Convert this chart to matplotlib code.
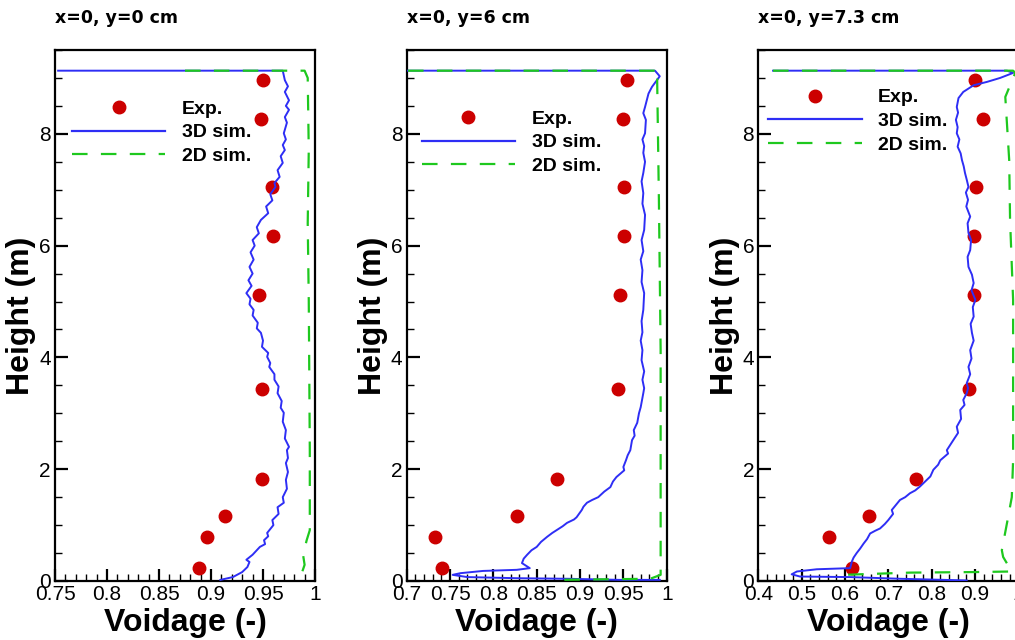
# -*- coding: utf-8 -*-
"""
Axial voidage profiles at three radial positions: experiment vs 3D / 2D simulation.
"""

import matplotlib

matplotlib.use("Agg")
import matplotlib.pyplot as plt  # noqa: E402
from matplotlib.lines import Line2D  # noqa: E402
from matplotlib.ticker import FuncFormatter, MultipleLocator  # noqa: E402

# ---------------------------------------------------------------- data
TITLES = ["x=0, y=0 cm", "x=0, y=6 cm", "x=0, y=7.3 cm"]

EXP_HEIGHT = [0.24, 0.78, 1.16, 1.82, 3.43, 5.11, 6.18, 7.05, 8.27, 8.97]
EXP_VOID_Y0 = [0.888, 0.896, 0.913, 0.949, 0.949, 0.946, 0.960, 0.959, 0.948, 0.950]
EXP_VOID_Y6 = [0.741, 0.733, 0.827, 0.873, 0.944, 0.946, 0.951, 0.951, 0.950, 0.954]
EXP_VOID_Y73 = [0.616, 0.562, 0.656, 0.764, 0.887, 0.898, 0.898, 0.902, 0.919, 0.900]

SIM3D_Y0_VOID = [0.753, 0.969, 0.971, 0.974, 0.971, 0.975, 0.972, 0.975, 0.971, 0.973,
                 0.970, 0.972, 0.969, 0.971, 0.967, 0.969, 0.964, 0.966, 0.961, 0.962,
                 0.957, 0.959, 0.953, 0.955, 0.948, 0.944, 0.946, 0.940, 0.942, 0.938,
                 0.941, 0.937, 0.940, 0.936, 0.939, 0.934, 0.938, 0.937, 0.941, 0.940,
                 0.945, 0.944, 0.948, 0.950, 0.949, 0.955, 0.954, 0.957, 0.956, 0.961,
                 0.961, 0.965, 0.964, 0.968, 0.967, 0.970, 0.969, 0.972, 0.971, 0.975,
                 0.973, 0.974, 0.972, 0.974, 0.972, 0.973, 0.969, 0.970, 0.964, 0.965,
                 0.959, 0.960, 0.954, 0.955, 0.951, 0.952, 0.947, 0.940, 0.934, 0.937,
                 0.935, 0.930, 0.921, 0.909]
SIM3D_Y0_HEIGHT = [9.13, 9.13, 8.96, 8.85, 8.75, 8.60, 8.50, 8.43, 8.30, 8.20,
                   8.01, 7.90, 7.80, 7.71, 7.60, 7.48, 7.35, 7.23, 7.12, 7.05,
                   6.92, 6.81, 6.70, 6.58, 6.46, 6.33, 6.22, 6.10, 6.00, 5.88,
                   5.75, 5.62, 5.50, 5.38, 5.28, 5.15, 5.05, 4.95, 4.85, 4.75,
                   4.62, 4.52, 4.44, 4.30, 4.19, 4.08, 4.01, 3.90, 3.83, 3.70,
                   3.60, 3.48, 3.36, 3.22, 3.10, 3.01, 2.85, 2.70, 2.55, 2.40,
                   2.34, 2.20, 2.11, 1.95, 1.81, 1.65, 1.50, 1.40, 1.32, 1.20,
                   1.09, 1.00, 0.86, 0.80, 0.73, 0.66, 0.61, 0.47, 0.38, 0.34,
                   0.25, 0.16, 0.07, 0.02]

SIM2D_Y0_VOID = [0.875, 0.990, 0.993, 0.994, 0.993, 0.994, 0.995, 0.995, 0.992, 0.9885,
                 0.990, 0.986, 0.984]
SIM2D_Y0_HEIGHT = [9.13, 9.13, 9.00, 7.71, 6.40, 5.03, 2.34, 0.91, 0.73, 0.47,
                   0.29, 0.07, 0.0]

SIM3D_Y6_VOID = [0.7015, 0.9865, 0.992, 0.983, 0.979, 0.977, 0.975, 0.973, 0.976, 0.975,
                 0.972, 0.974, 0.973, 0.975, 0.973, 0.971, 0.973, 0.972, 0.975, 0.974,
                 0.971, 0.973, 0.970, 0.972, 0.971, 0.974, 0.973, 0.971, 0.972, 0.970,
                 0.972, 0.971, 0.974, 0.972, 0.974, 0.973, 0.970, 0.968, 0.966, 0.962,
                 0.963, 0.960, 0.958, 0.955, 0.953, 0.950, 0.951, 0.942, 0.938, 0.935,
                 0.928, 0.921, 0.914, 0.908, 0.904, 0.902, 0.896, 0.893, 0.885, 0.880,
                 0.873, 0.868, 0.862, 0.855, 0.850, 0.844, 0.839, 0.835, 0.833, 0.842,
                 0.827, 0.788, 0.762, 0.753, 0.770, 0.827, 0.885, 0.946, 0.992]
SIM3D_Y6_HEIGHT = [9.13, 9.13, 9.03, 8.84, 8.72, 8.60, 8.48, 8.37, 8.25, 8.01,
                   7.90, 7.78, 7.66, 7.50, 7.30, 7.15, 6.94, 6.75, 6.55, 6.28,
                   6.10, 5.90, 5.75, 5.56, 5.35, 5.15, 4.85, 4.65, 4.45, 4.30,
                   4.13, 3.95, 3.75, 3.60, 3.45, 3.36, 3.11, 3.00, 2.83, 2.70,
                   2.60, 2.52, 2.34, 2.25, 2.16, 2.04, 1.98, 1.86, 1.78, 1.68,
                   1.60, 1.50, 1.45, 1.40, 1.33, 1.27, 1.14, 1.10, 1.04, 0.98,
                   0.91, 0.86, 0.79, 0.70, 0.61, 0.55, 0.47, 0.40, 0.32, 0.23,
                   0.20, 0.18, 0.14, 0.11, 0.07, 0.05, 0.04, 0.02, 0.02]

SIM2D_Y6_VOID = [0.7015, 0.992, 0.989, 0.991, 0.993, 0.993, 0.993, 0.981, 0.873]
SIM2D_Y6_HEIGHT = [9.13, 9.13, 8.96, 6.82, 4.13, 1.45, 0.11, 0.04, 0.02]

SIM3D_Y73_VOID = [0.434, 0.974, 0.988, 0.958, 0.928, 0.897, 0.873, 0.862, 0.858, 0.861,
                  0.856, 0.860, 0.858, 0.864, 0.860, 0.867, 0.870, 0.874, 0.877, 0.881,
                  0.885, 0.879, 0.884, 0.880, 0.889, 0.883, 0.885, 0.891, 0.889, 0.883,
                  0.885, 0.893, 0.897, 0.892, 0.901, 0.895, 0.897, 0.890, 0.893, 0.897,
                  0.889, 0.892, 0.885, 0.889, 0.881, 0.884, 0.881, 0.873, 0.876, 0.866,
                  0.868, 0.858, 0.861, 0.850, 0.835, 0.838, 0.820, 0.815, 0.804, 0.797,
                  0.785, 0.773, 0.762, 0.750, 0.739, 0.727, 0.708, 0.711, 0.700, 0.692,
                  0.681, 0.670, 0.658, 0.651, 0.643, 0.635, 0.627, 0.620, 0.616, 0.612,
                  0.535, 0.489, 0.477, 0.496, 0.612, 0.727, 0.881]
SIM3D_Y73_HEIGHT = [9.13, 9.13, 9.09, 9.00, 8.93, 8.87, 8.75, 8.64, 8.48, 8.38,
                    8.25, 8.12, 8.01, 7.90, 7.77, 7.65, 7.53, 7.42, 7.30, 7.18,
                    7.05, 6.95, 6.82, 6.70, 6.52, 6.40, 6.23, 6.10, 5.92, 5.80,
                    5.62, 5.48, 5.33, 5.20, 5.03, 4.90, 4.73, 4.60, 4.44, 4.30,
                    4.13, 3.98, 3.83, 3.70, 3.54, 3.45, 3.36, 3.24, 3.15, 3.06,
                    2.90, 2.76, 2.65, 2.52, 2.34, 2.28, 2.16, 2.08, 1.99, 1.87,
                    1.78, 1.69, 1.62, 1.57, 1.50, 1.45, 1.27, 1.20, 1.09, 1.02,
                    0.94, 0.90, 0.85, 0.75, 0.67, 0.58, 0.50, 0.42, 0.35, 0.23,
                    0.21, 0.17, 0.12, 0.08, 0.07, 0.04, 0.01]

SIM2D_Y73_VOID = [0.434, 0.988, 0.993, 0.970, 0.974, 0.979, 0.981, 0.988, 0.988, 0.985,
                  0.974, 0.962, 0.965, 0.985, 0.90, 0.75, 0.596]
SIM2D_Y73_HEIGHT = [9.13, 9.13, 9.09, 8.66, 8.16, 7.53, 6.46, 5.03, 2.16, 1.50,
                    1.04, 0.55, 0.43, 0.17, 0.16, 0.15, 0.11]

XLIMS = [(0.75, 1.0), (0.7, 1.0), (0.4, 1.0)]
X_MAJOR = [0.05, 0.05, 0.1]
X_MINOR = [0.01, 0.01, 0.02]

# ---------------------------------------------------------------- style
EXP_COLOR = "#cc0000"
SIM3D_COLOR = "#2e2ef5"
SIM2D_COLOR = "#1ec81e"
TICK_FONT = "Liberation Sans"
FIG_W, FIG_H = 1015, 640

# axes boxes in pixels: (left, width); all share bottom / top
AX_LEFT_PX = [55.0, 406.7, 758.3]
AX_WIDTH_PX = 260.0
AX_BOTTOM_PX, AX_TOP_PX = 581.0, 50.0
LEGEND_ANCHOR = [(0.065, 0.906), (0.058, 0.887), (0.038, 0.927)]


def style_axes(ax, xlim, major, minor):
    """Tecplot-like frame: inward ticks on bottom/left only."""

    ax.set_xlim(*xlim)
    ax.set_ylim(0.0, 9.5)
    ax.xaxis.set_major_locator(MultipleLocator(major))
    ax.xaxis.set_minor_locator(MultipleLocator(minor))
    ax.yaxis.set_major_locator(MultipleLocator(2))
    ax.yaxis.set_minor_locator(MultipleLocator(0.5))
    ax.xaxis.set_major_formatter(FuncFormatter(lambda v, _: f"{round(v, 3):g}"))
    ax.yaxis.set_major_formatter(FuncFormatter(lambda v, _: f"{round(v, 3):g}"))
    ax.tick_params(which="major", direction="in", length=9, width=1.6, labelsize=15, pad=3)
    ax.tick_params(which="minor", direction="in", length=5, width=1.0)
    ax.tick_params(top=False, right=False)
    for label in ax.get_xticklabels() + ax.get_yticklabels():
        label.set_fontfamily(TICK_FONT)
    for spine in ax.spines.values():
        spine.set_linewidth(1.6)
    ax.set_xlabel("Voidage (-)", fontsize=23, fontweight="bold", family=TICK_FONT, labelpad=3)
    ax.set_ylabel("Height (m)", fontsize=23, fontweight="bold", family=TICK_FONT, labelpad=2)


def main() -> None:
    exp_void = [EXP_VOID_Y0, EXP_VOID_Y6, EXP_VOID_Y73]
    sim3d = [(SIM3D_Y0_VOID, SIM3D_Y0_HEIGHT), (SIM3D_Y6_VOID, SIM3D_Y6_HEIGHT),
             (SIM3D_Y73_VOID, SIM3D_Y73_HEIGHT)]
    sim2d = [(SIM2D_Y0_VOID, SIM2D_Y0_HEIGHT), (SIM2D_Y6_VOID, SIM2D_Y6_HEIGHT),
             (SIM2D_Y73_VOID, SIM2D_Y73_HEIGHT)]

    fig = plt.figure(figsize=(FIG_W / 100, FIG_H / 100), dpi=100)
    dash = (0, (7, 6))

    for i in range(3):
        rect = [AX_LEFT_PX[i] / FIG_W, 1 - AX_BOTTOM_PX / FIG_H,
                AX_WIDTH_PX / FIG_W, (AX_BOTTOM_PX - AX_TOP_PX) / FIG_H]
        ax = fig.add_axes(rect)
        ax.plot(exp_void[i], EXP_HEIGHT, linestyle="none", marker="o", markersize=9,
                color=EXP_COLOR, zorder=2)
        ax.plot(*sim3d[i], color=SIM3D_COLOR, linewidth=1.4, zorder=3)
        ax.plot(*sim2d[i], color=SIM2D_COLOR, linewidth=1.6, linestyle=dash, zorder=4)
        style_axes(ax, XLIMS[i], X_MAJOR[i], X_MINOR[i])

        handles = [
            Line2D([], [], linestyle="none", marker="o", markersize=9, color=EXP_COLOR),
            Line2D([], [], color=SIM3D_COLOR, linewidth=1.6),
            Line2D([], [], color=SIM2D_COLOR, linewidth=1.6, linestyle=dash),
        ]
        ax.legend(handles, ["Exp.", "3D sim.", "2D sim."], loc="upper left",
                  bbox_to_anchor=LEGEND_ANCHOR[i], borderaxespad=0, borderpad=0,
                  frameon=False, handlelength=4.8, handletextpad=0.85, labelspacing=0.32,
                  prop={"family": TICK_FONT, "weight": "bold", "size": 14})

        fig.text(AX_LEFT_PX[i] / FIG_W, 1 - 23 / FIG_H, TITLES[i], fontsize=12.5,
                 fontweight="bold", family="DejaVu Sans", ha="left", va="baseline")

    fig.savefig("out.png", dpi=100)


if __name__ == "__main__":
    main()
